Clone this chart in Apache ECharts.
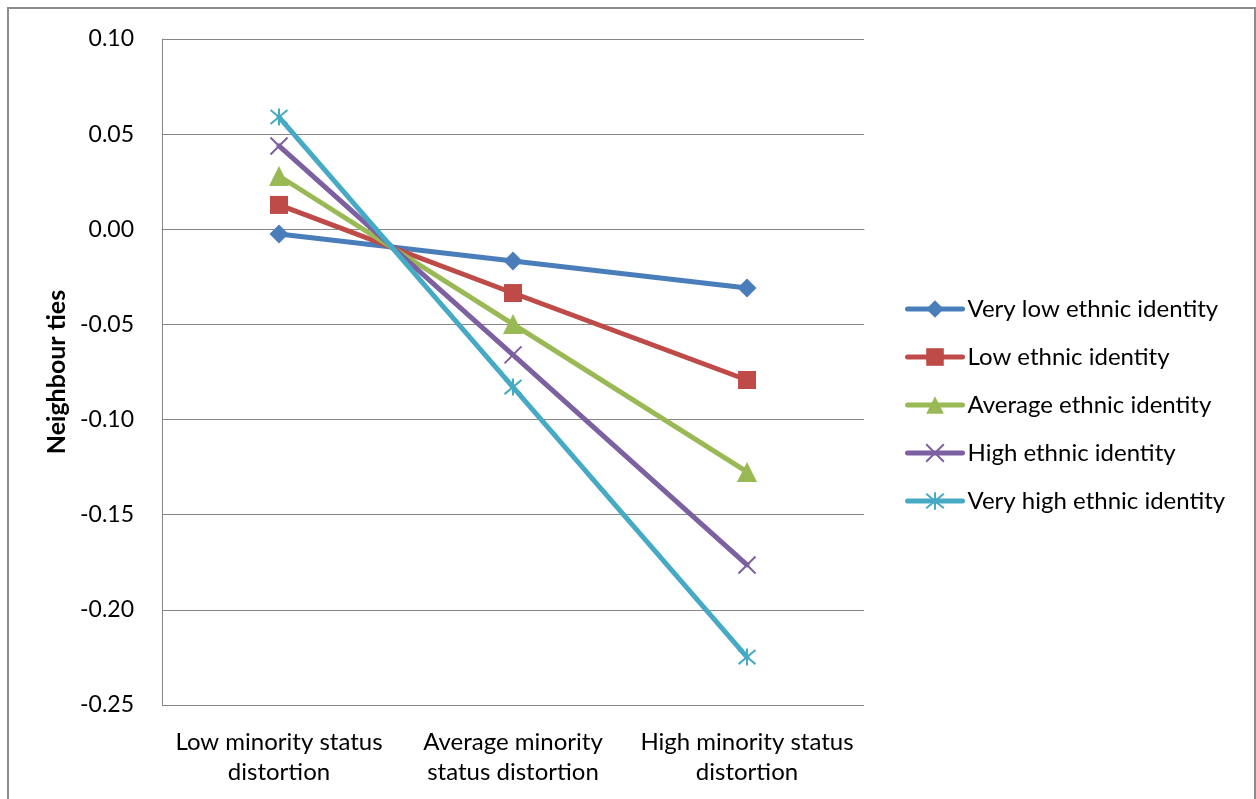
<!DOCTYPE html>
<html><head><meta charset="utf-8">
<script src="https://cdn.jsdelivr.net/npm/echarts@6/dist/echarts.min.js"></script>
<style>html,body{margin:0;padding:0;background:#fff;}#c{width:1256px;height:799px;}</style>
</head><body><div id="c"></div>
<script>
const categories = ["Low minority status\ndistortion", "Average minority\nstatus distortion", "High minority status\ndistortion"];
const seriesNames = ["Very low ethnic identity", "Low ethnic identity", "Average ethnic identity", "High ethnic identity", "Very high ethnic identity"];
const veryLow = [-0.0025, -0.0167, -0.0308];
const low = [0.0128, -0.0335, -0.0792];
const average = [0.0280, -0.0498, -0.1275];
const high = [0.0438, -0.0660, -0.1764];
const veryHigh = [0.0590, -0.0829, -0.2248];
const yTicks = [-0.25, -0.20, -0.15, -0.10, -0.05, 0.00, 0.05, 0.10];

const colors = ['#4A7EBB', '#BE4B48', '#98B954', '#7D60A0', '#46AAC5'];
const font = 'Lato, "Open Sans", sans-serif';
const xPath = 'path://M0 0 L10 10 M10 0 L0 10';
const starPath = 'path://M0 0 L10 10 M10 0 L0 10 M5 -1 L5 11';

function mk(name, data, color, symbol, size, stroked) {
  return {
    name: name, type: 'line', data: data,
    symbol: symbol, symbolSize: size,
    lineStyle: { color: color, width: 5, cap: 'round', join: 'round' },
    itemStyle: stroked ? { color: 'rgba(0,0,0,0)', borderColor: color, borderWidth: 2 } : { color: color },
    emphasis: { disabled: true },
    z: 2
  };
}

const chart = echarts.init(document.getElementById('c'), null, { renderer: 'canvas' });
chart.setOption({
  animation: false,
  color: colors,
  textStyle: { fontFamily: font },
  graphic: [{
    type: 'rect', shape: { x: 8, y: 8, width: 1247, height: 800 },
    style: { fill: 'none', stroke: '#8c8c8c', lineWidth: 2 }, silent: true
  }],
  grid: { left: 162, right: 392, top: 39, bottom: 94 },
  legend: {
    orient: 'vertical', left: 900, top: 292,
    itemWidth: 55, itemHeight: 22, itemGap: 24,
    lineStyle: { width: 5, cap: 'round' },
    textStyle: { fontSize: 24, lineHeight: 24, color: '#000', fontFamily: font },
    data: seriesNames
  },
  xAxis: {
    type: 'category', data: categories, boundaryGap: true,
    axisLine: { lineStyle: { color: '#868686', width: 1 } },
    axisTick: { show: false },
    axisLabel: { fontSize: 24, color: '#000', lineHeight: 30, margin: 22, interval: 0, fontFamily: font }
  },
  yAxis: {
    type: 'value', min: yTicks[0], max: yTicks[yTicks.length - 1], interval: 0.05,
    name: 'Neighbour ties', nameLocation: 'middle', nameGap: 89, nameRotate: 90,
    nameTextStyle: { fontSize: 25, fontWeight: 'bold', color: '#000', fontFamily: font },
    axisLine: { show: true, lineStyle: { color: '#868686', width: 1 } },
    axisTick: { show: false },
    splitLine: { lineStyle: { color: '#868686', width: 1 } },
    axisLabel: { fontSize: 23, color: '#000', margin: 28, fontFamily: font, formatter: v => v.toFixed(2) }
  },
  series: [
    mk(seriesNames[0], veryLow, colors[0], 'diamond', 19, false),
    mk(seriesNames[1], low, colors[1], 'rect', 18, false),
    mk(seriesNames[2], average, colors[2], 'triangle', 20, false),
    mk(seriesNames[3], high, colors[3], xPath, 17, true),
    mk(seriesNames[4], veryHigh, colors[4], starPath, 17, true)
  ]
});
</script></body></html>
